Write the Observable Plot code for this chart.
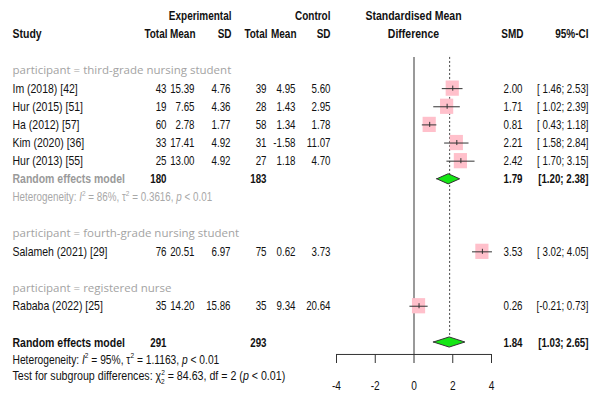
<!DOCTYPE html>
<html><head><meta charset="utf-8">
<script src="https://cdn.jsdelivr.net/npm/d3@7"></script>
<script src="https://cdn.jsdelivr.net/npm/@observablehq/plot@0.6"></script>
<style>
body{margin:0;background:#fff;}
svg text{white-space:pre;}
</style></head><body><div id="chart"></div>
<script>
// ---- data ----
const studies = ["Im (2018) [42]", "Hur (2015) [51]", "Ha (2012) [57]", "Kim (2020) [36]", "Hur (2013) [55]", "Salameh (2021) [29]", "Rababa (2022) [25]"];
const participants = ["third-grade nursing student","third-grade nursing student","third-grade nursing student","third-grade nursing student","third-grade nursing student","fourth-grade nursing student","registered nurse"];
const expTotal = [43, 19, 60, 33, 25, 76, 35];
const expMean = [15.39, 7.65, 2.78, 17.41, 13.00, 20.51, 14.20];
const expSD = [4.76, 4.36, 1.77, 4.92, 4.92, 6.97, 15.86];
const ctrlTotal = [39, 28, 58, 31, 27, 75, 35];
const ctrlMean = [4.95, 1.43, 1.34, -1.58, 1.18, 0.62, 9.34];
const ctrlSD = [5.60, 2.95, 1.78, 11.07, 4.70, 3.73, 20.64];
const smd = [2.00, 1.71, 0.81, 2.21, 2.42, 3.53, 0.26];
const ciLower = [1.46, 1.02, 0.43, 1.58, 1.70, 3.02, -0.21];
const ciUpper = [2.53, 2.39, 1.18, 2.84, 3.15, 4.05, 0.73];

const subgroups = ["third-grade nursing student", "fourth-grade nursing student", "registered nurse"];
// subgroup summaries (only shown for subgroups with more than one study)
const subExpTotal = [180, null, null];
const subCtrlTotal = [183, null, null];
const subSMD = [1.79, null, null];
const subLower = [1.20, null, null];
const subUpper = [2.38, null, null];
const subI2 = [86, null, null];
const subTau2 = ["0.3616", null, null];
const subP = ["< 0.01", null, null];

const overallExpTotal = 291, overallCtrlTotal = 293;
const overallSMD = 1.84, overallLower = 1.03, overallUpper = 2.65;
const overallI2 = 95, overallTau2 = "1.1163", overallP = "< 0.01";
const testChi2 = "84.63", testDf = 2, testP = "< 0.01";
const xTicks = [-4, -2, 0, 2, 4];

// ---- layout ----
const f2 = v => v.toFixed(2);
const padL = (s, w) => " ".repeat(Math.max(0, w - s.length)) + s;
const lw = Math.max(...ciLower.map(v => f2(v).length));
const uw = Math.max(...ciUpper.map(v => f2(v).length));

const groupRows = [], studyRows = [], subRows = [], hetRows = [];
let r = 0;
subgroups.forEach((g, gi) => {
  groupRows.push({row: r++, label: "participant = " + g});
  studies.forEach((s, i) => {
    if (participants[i] === g) studyRows.push({
      row: r++, label: s, et: String(expTotal[i]), em: f2(expMean[i]), es: f2(expSD[i]),
      ct: String(ctrlTotal[i]), cm: f2(ctrlMean[i]), cs: f2(ctrlSD[i]),
      smd: smd[i], lo: ciLower[i], hi: ciUpper[i],
      smdText: f2(smd[i]), ci: "[" + padL(f2(ciLower[i]), lw) + "; " + padL(f2(ciUpper[i]), uw) + "]"
    });
  });
  if (subSMD[gi] != null) {
    subRows.push({row: r++, et: String(subExpTotal[gi]), ct: String(subCtrlTotal[gi]), smd: subSMD[gi], lo: subLower[gi], hi: subUpper[gi],
      smdText: f2(subSMD[gi]), ci: "[" + f2(subLower[gi]) + "; " + f2(subUpper[gi]) + "]"});
    hetRows.push({row: r++, text: `HET_SUB_${gi}`,
      parts: ["Heterogeneity: ", {t: "I", i: 1}, {t: "2", sup: 1}, ` = ${subI2[gi]}%, τ`, {t: "2", sup: 1}, ` = ${subTau2[gi]}, `, {t: "p", i: 1}, ` ${subP[gi]}`]});
  }
  r++;
});
const overallRow = r;
const overall = [{row: overallRow, et: String(overallExpTotal), ct: String(overallCtrlTotal), smd: overallSMD, lo: overallLower, hi: overallUpper,
  smdText: f2(overallSMD), ci: "[" + f2(overallLower) + "; " + f2(overallUpper) + "]"}];
const overallHet = [{row: overallRow + 0.95, text: "HET_OVERALL",
  parts: ["Heterogeneity: ", {t: "I", i: 1}, {t: "2", sup: 1}, ` = ${overallI2}%, τ`, {t: "2", sup: 1}, ` = ${overallTau2}, `, {t: "p", i: 1}, ` ${overallP}`]}];
const testRow = [{row: overallRow + 1.85, text: "TEST",
  parts: ["Test for subgroup differences: χ", {t: "2", sup: 1}, {t: String(testDf), sub: 1, back: 1}, ` = ${testChi2}, df = ${testDf} (`, {t: "p", i: 1}, ` ${testP})`]}];
const AXIS_ROW = overallRow + 0.66;
const TOP_ROW = -0.72;
const H = -3, H2 = -2;

const diamonds = [...subRows, ...overall].flatMap((d, k) => [
  {id: k, x: d.lo, y1: d.row, y2: d.row},
  {id: k, x: d.smd, y1: d.row - 0.28, y2: d.row + 0.28},
  {id: k, x: d.hi, y1: d.row, y2: d.row}
]);

const FONT = "'Liberation Sans', Arial, sans-serif";
const NUM = 12.5;
const col = (data, field, dx, o = {}) => Plot.text(data, {y: "row", text: field, frameAnchor: "left", dx, textAnchor: "end", fontSize: NUM, ...o});
const hdr = (txt, dx, row, anchor = "end") => Plot.text([txt], {y: () => row, text: d => d, frameAnchor: "left", dx, textAnchor: anchor, fontWeight: "bold", fill: "#111"});

const cols = [["et", 166], ["em", 194], ["es", 230], ["ct", 266], ["cm", 295], ["cs", 330]];

const chart = Plot.plot({
  width: 597, height: 394,
  marginTop: 0, marginBottom: 40, marginLeft: 0, marginRight: 0,
  x: {domain: [-4, 4], range: [336, 491]},
  y: {domain: [0, 15], range: [70, 342], axis: null},
  style: {fontFamily: FONT, fontSize: "12.8px", background: "#fff", color: "#111", overflow: "visible"},
  marks: [
    // headers
    hdr("Experimental", 231, H), hdr("Control", 330, H),
    hdr("Study", 12, H2, "start"),
    hdr("Total", 167, H2), hdr("Mean", 195, H2), hdr("SD", 231, H2),
    hdr("Total", 267, H2), hdr("Mean", 296, H2), hdr("SD", 330, H2),
    hdr("Standardised Mean", 413, H, "middle"), hdr("Difference", 413, H2, "middle"),
    hdr("SMD", 523, H2), hdr("95%-CI", 588, H2),
    // subgroup labels
    Plot.text(groupRows, {y: "row", text: "label", frameAnchor: "left", dx: 12, textAnchor: "start", fill: "#a3a3a3", fontFamily: "'Open Sans', sans-serif", fontSize: 11.5}),
    // study rows
    Plot.text(studyRows, {y: "row", text: "label", frameAnchor: "left", dx: 12, textAnchor: "start", fill: "#111"}),
    ...cols.map(([f, dx]) => col(studyRows, f, dx, {fill: "#111"})),
    col(studyRows, "smdText", 522, {fill: "#111"}),
    col(studyRows, "ci", 588, {fill: "#111"}),
    // subgroup summary
    Plot.text(subRows, {y: "row", text: () => "Random effects model", frameAnchor: "left", dx: 12, textAnchor: "start", fill: "#9a9a9a", fontWeight: "bold"}),
    col(subRows, "et", 166, {fontWeight: "bold", fill: "#111"}),
    col(subRows, "ct", 266, {fontWeight: "bold", fill: "#111"}),
    col(subRows, "smdText", 522, {fontWeight: "bold", fill: "#111"}),
    col(subRows, "ci", 588, {fontWeight: "bold", fill: "#111"}),
    Plot.text(hetRows, {y: "row", text: "text", frameAnchor: "left", dx: 12, textAnchor: "start", fill: "#a8a8a8", fontSize: 12}),
    // overall
    Plot.text(overall, {y: "row", text: () => "Random effects model", frameAnchor: "left", dx: 12, textAnchor: "start", fill: "#111", fontWeight: "bold"}),
    col(overall, "et", 166, {fontWeight: "bold", fill: "#111"}),
    col(overall, "ct", 266, {fontWeight: "bold", fill: "#111"}),
    col(overall, "smdText", 522, {fontWeight: "bold", fill: "#111"}),
    col(overall, "ci", 588, {fontWeight: "bold", fill: "#111"}),
    Plot.text(overallHet, {y: "row", text: "text", frameAnchor: "left", dx: 12, textAnchor: "start", fill: "#111", fontSize: 12.5}),
    Plot.text(testRow, {y: "row", text: "text", frameAnchor: "left", dx: 12, textAnchor: "start", fill: "#111", fontSize: 13}),
    // reference lines
    Plot.ruleX([0], {y1: TOP_ROW, y2: AXIS_ROW, stroke: "#555", strokeWidth: 1.2}),
    Plot.ruleX([overallSMD], {y1: TOP_ROW, y2: overallRow - 0.28, stroke: "#444", strokeDasharray: "2,2"}),
    // squares, CIs
    Plot.rect(studyRows, {x1: d => d.smd - 0.34, x2: d => d.smd + 0.34, y1: d => d.row - 0.42, y2: d => d.row + 0.42, fill: "#ffc0cb"}),
    Plot.ruleY(studyRows, {y: "row", x1: "lo", x2: "hi", stroke: "#333", strokeWidth: 1}),
    Plot.ruleX(studyRows, {x: "smd", y1: d => d.row - 0.14, y2: d => d.row + 0.14, stroke: "#333"}),
    // diamonds
    Plot.area(diamonds, {x1: "x", y1: "y1", y2: "y2", z: "id", fill: "#14e614", stroke: "#333", strokeWidth: 1}),
    // axis
    Plot.ruleY([AXIS_ROW], {x1: xTicks[0], x2: xTicks[xTicks.length - 1], stroke: "#333"}),
    Plot.axisX({ticks: xTicks, tickFormat: d => String(d), tickSize: 9, tickPadding: 17, fontSize: 13, label: null, stroke: "#333", color: "#111"})
  ]
});

// rich text for superscripts / italics
d3.select(chart).selectAll("text").each(function () {
  const t = this.textContent;
  let data = null;
  for (const d of [...hetRows, ...overallHet, ...testRow]) if (d.text === t) data = d;
  if (!data) return;
  const node = d3.select(this);
  node.text(null);
  let shift = 0;
  for (const p of data.parts) {
    const o = typeof p === "string" ? {t: p} : p;
    const target = o.sup ? -5.5 : o.sub ? 3.5 : 0;
    const ts = node.append("tspan").text(o.t);
    if (target !== shift) ts.attr("dy", target - shift);
    shift = target;
    if (o.i) ts.attr("font-style", "italic");
    if (o.sup || o.sub) ts.attr("font-size", 8);
    if (o.back) ts.attr("dx", -4.5);
  }
});

// narrow (condensed) rendering of the R-style text
const headerWords = new Set(["Experimental", "Control", "Total", "Mean", "SD", "SMD", "95%-CI"]);
d3.select(chart).selectAll("text").each(function () {
  const t = this.textContent;
  if (t.startsWith("participant")) return;
  const narrow = /^[\s\[\]\-0-9.;]+$/.test(t) || headerWords.has(t);
  const tr = this.getAttribute("transform") || "";
  this.setAttribute("transform", tr + ` scale(${narrow ? 0.78 : 0.82},1)`);
});

document.getElementById("chart").appendChild(chart);
</script></body></html>
